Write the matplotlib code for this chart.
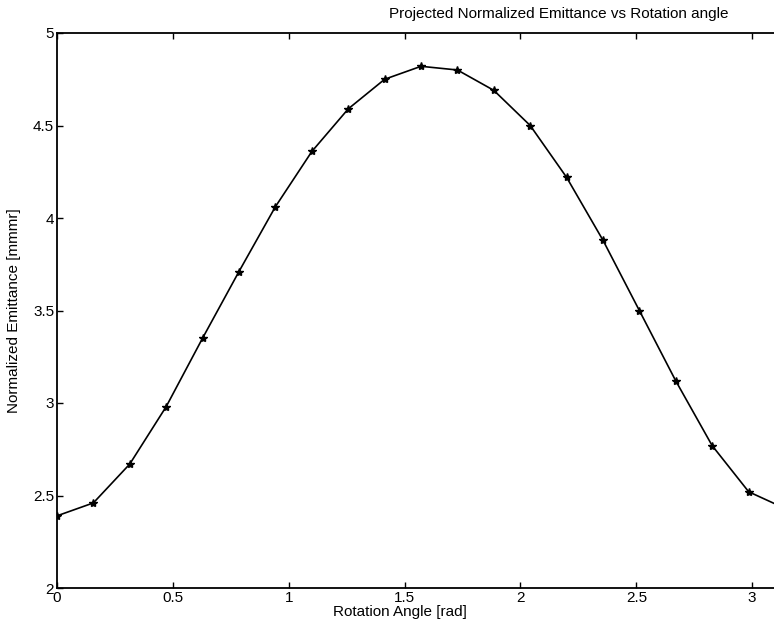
import numpy as np
import matplotlib
matplotlib.use("Agg")
import matplotlib.pyplot as plt

plt.rcParams["font.family"] = ["Liberation Sans", "DejaVu Sans"]

# rotation angle samples (rad), step pi/20
angle = [0.0, 0.157, 0.314, 0.471, 0.628, 0.785, 0.942, 1.100, 1.257, 1.414, 1.571,
         1.728, 1.885, 2.042, 2.199, 2.356, 2.513, 2.670, 2.827, 2.985, 3.142]
emittance = [2.39, 2.46, 2.67, 2.98, 3.35, 3.71, 4.06, 4.36, 4.59, 4.75, 4.82,
             4.80, 4.69, 4.50, 4.22, 3.88, 3.50, 3.12, 2.77, 2.52, 2.43]
xticks = [0, 0.5, 1, 1.5, 2, 2.5, 3]
xticklabels = ["0", "0.5", "1", "1.5", "2", "2.5", "3"]
yticks = [2, 2.5, 3, 3.5, 4, 4.5, 5]
yticklabels = ["2", "2.5", "3", "3.5", "4", "4.5", "5"]

W, H = 774, 629
fig = plt.figure(figsize=(W / 100, H / 100), dpi=100)
# axes runs slightly past the right edge, as in the scanned original
ax = fig.add_axes([57 / W, 1 - 588 / H, 728 / W, 555 / H])

ax.plot(angle, emittance, color="black", lw=1.2, marker="*", ms=6, mfc="black", mec="black")

ax.set_xlim(0, np.pi)
ax.set_ylim(2, 5)
ax.set_xticks(xticks)
ax.set_xticklabels(xticklabels)
ax.set_yticks(yticks)
ax.set_yticklabels(yticklabels)
ax.tick_params(direction="in", top=True, right=True, length=4, width=1,
               labelsize=11, pad=2)
for s in ax.spines.values():
    s.set_linewidth(1.3)

fig.text(559 / W, 1 - 14 / H, "Projected Normalized Emittance vs Rotation angle",
         ha="center", va="center", fontsize=11)
fig.text(400 / W, 1 - 612 / H, "Rotation Angle [rad]", ha="center", va="center", fontsize=11)
fig.text(14 / W, 1 - 311 / H, "Normalized Emittance [mmmr]", ha="center", va="center",
         rotation=90, fontsize=11)

fig.savefig("out.png", dpi=100)
